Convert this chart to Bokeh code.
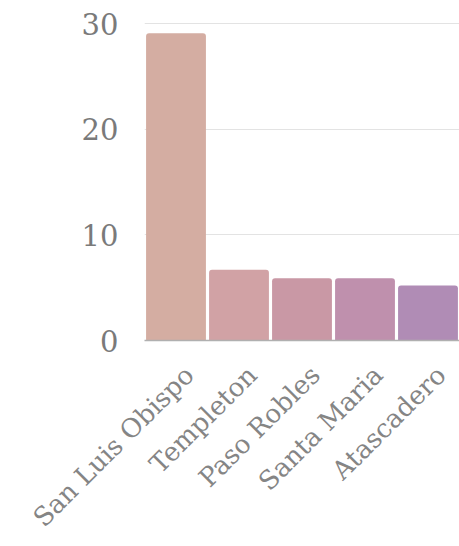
import math
from bokeh.plotting import figure
from bokeh.models import (Range1d, ColumnDataSource, LinearAxis, FixedTicker)
from bokeh.embed import file_html
from bokeh.resources import INLINE

cities = ["San Luis Obispo", "Templeton", "Paso Robles", "Santa Maria", "Atascadero"]
values = [29.1, 6.7, 5.9, 5.9, 5.2]
colors = ["#d4ada2", "#d1a2a5", "#c998a5", "#bf90ad", "#b08cb5"]
y_ticks = [0, 10, 20, 30]

FONT = "DejaVu Serif"
LABEL_SHIFT = 0.21  # label anchor sits a little right of each bar centre

n = len(cities)
pos = [i + 0.5 for i in range(n)]  # slot centres, one per city
src = ColumnDataSource(dict(x=pos, city=cities, val=values, color=colors))

p = figure(width=459, height=546, output_backend="svg", toolbar_location=None,
           x_range=Range1d(0, n), y_range=Range1d(0, 30.3))
p.min_border_left = 144
p.min_border_right = 0
p.min_border_top = 20
p.min_border_bottom = 206
p.outline_line_color = None
p.background_fill_color = "white"

p.vbar(x="x", top="val", width=0.95, source=src, fill_color="color",
       line_color=None, border_radius=(3, 3, 0, 0))

p.xgrid.grid_line_color = None
p.ygrid.ticker = [10, 20, 30]
p.ygrid.grid_line_color = "#e3e3e3"
p.ygrid.grid_line_width = 1

p.yaxis.ticker = y_ticks
p.yaxis.axis_line_color = None
p.yaxis.major_tick_line_color = None
p.yaxis.minor_tick_line_color = None
p.yaxis.major_tick_out = 0
p.yaxis.major_label_standoff = 26
p.yaxis.major_label_text_font = FONT
p.yaxis.major_label_text_font_size = "29px"
p.yaxis.major_label_text_color = "#7a7a7a"

p.xaxis.visible = False

# label axis on a shifted twin range, so labels end right of bar centres
p.extra_x_ranges = {"lbl": Range1d(-LABEL_SHIFT, n - LABEL_SHIFT)}
lbl_axis = LinearAxis(x_range_name="lbl", ticker=FixedTicker(ticks=pos),
                      major_label_overrides={t: c for t, c in zip(pos, cities)})
lbl_axis.axis_line_color = "#b0b0b0"
lbl_axis.axis_line_width = 1.5
lbl_axis.major_tick_line_color = None
lbl_axis.minor_tick_line_color = None
lbl_axis.major_tick_out = 0
lbl_axis.major_tick_in = 0
lbl_axis.major_label_standoff = 30
lbl_axis.major_label_orientation = math.pi / 4
lbl_axis.major_label_text_font = FONT
lbl_axis.major_label_text_font_size = "26px"
lbl_axis.major_label_text_color = "#858585"
p.add_layout(lbl_axis, "below")

open("out.html", "w").write(file_html(p, INLINE))
